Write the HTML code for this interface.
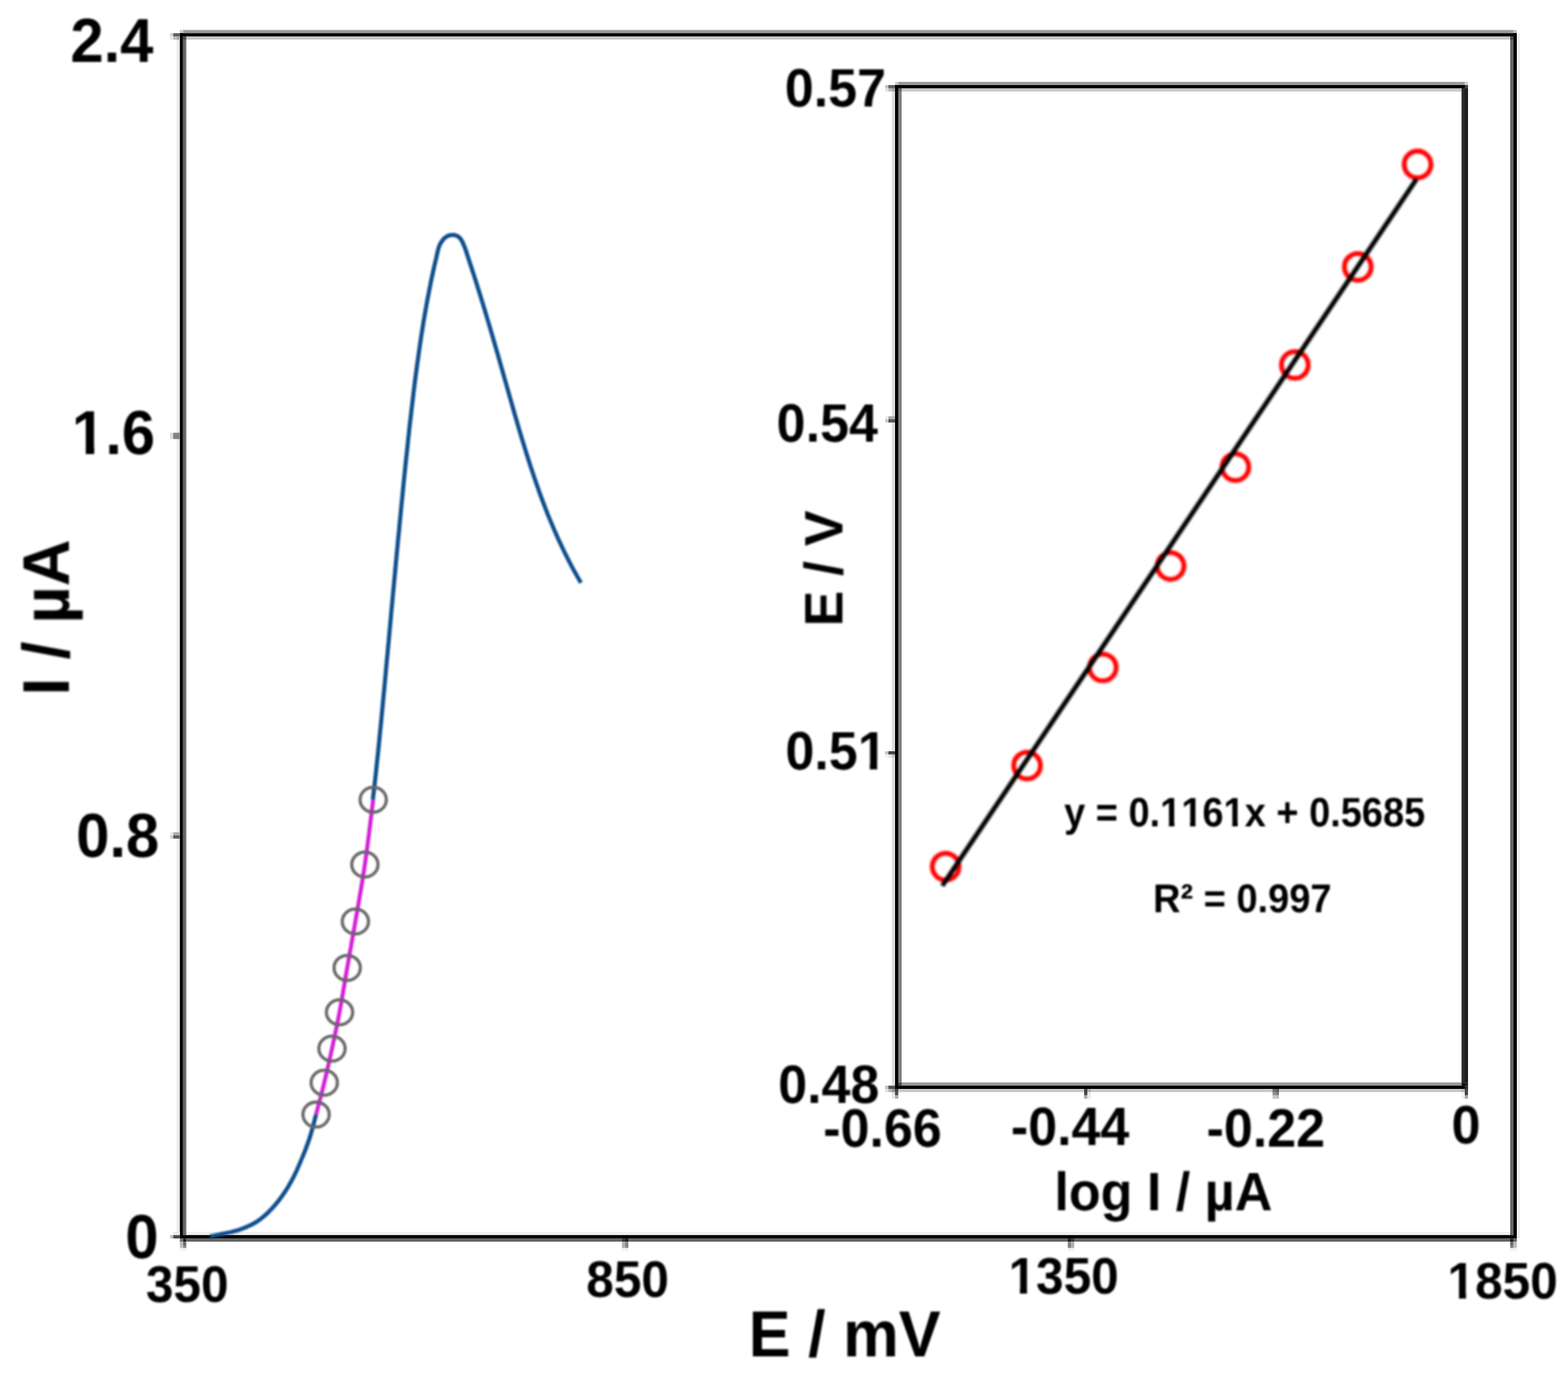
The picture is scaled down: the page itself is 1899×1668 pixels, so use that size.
<!DOCTYPE html>
<html lang="en"><head><meta charset="utf-8"><title>Tafel plot</title>
<style>
html,body{margin:0;padding:0;background:#fff;}
body{width:1899px;height:1668px;overflow:hidden;}
svg{display:block;}
text{font-family:"Liberation Sans", Arial, Helvetica, sans-serif;font-weight:bold;fill:#000;font-kerning:none;text-rendering:geometricPrecision;stroke:#000;stroke-width:0;stroke-linejoin:round;}
</style></head>
<body>
<svg xmlns="http://www.w3.org/2000/svg" width="1899" height="1668" viewBox="0 0 1899 1668">
<defs>
<filter id="b" x="-5%" y="-5%" width="110%" height="110%" color-interpolation-filters="sRGB"><feGaussianBlur stdDeviation="1.3"/></filter>
<filter id="b3" x="-2%" y="-2%" width="104%" height="104%" color-interpolation-filters="sRGB"><feGaussianBlur stdDeviation="0.45"/></filter>
<filter id="b4" x="-5%" y="-5%" width="110%" height="110%" color-interpolation-filters="sRGB"><feGaussianBlur stdDeviation="1.4"/></filter>
<filter id="b2" x="-5%" y="-5%" width="110%" height="110%" color-interpolation-filters="sRGB"><feGaussianBlur stdDeviation="1.1"/></filter>
</defs>
<rect x="0" y="0" width="1899" height="1668" fill="#fff"/>
<g filter="url(#b3)">
<rect x="221.70" y="36.30" width="1611.20" height="3.90" fill="#999"/>
<rect x="217.80" y="36.30" width="3.90" height="3.90" fill="#c8c8c8"/>
<rect x="1832.90" y="36.30" width="4.10" height="3.90" fill="#c0c0c0"/>
<rect x="225.60" y="44.10" width="1603.40" height="3.90" fill="#c8c8c8"/>
<rect x="217.80" y="40.20" width="1619.20" height="3.90" fill="#000"/>
<rect x="225.60" y="1492.20" width="1603.40" height="3.90" fill="#eee"/>
<rect x="225.60" y="1500.20" width="1603.40" height="3.90" fill="#646464"/>
<rect x="217.80" y="1496.10" width="1619.20" height="4.10" fill="#000"/>
<rect x="213.90" y="48.00" width="3.90" height="1444.20" fill="#ebebeb"/>
<rect x="221.70" y="48.00" width="3.90" height="1448.10" fill="#666"/>
<rect x="221.70" y="44.10" width="3.90" height="3.90" fill="#484848"/>
<rect x="217.80" y="40.20" width="3.90" height="1460.00" fill="#000"/>
<rect x="1838.00" y="40.20" width="3.00" height="1460.00" fill="#efefef"/>
<rect x="1829.00" y="48.00" width="3.90" height="1448.10" fill="#666"/>
<rect x="1829.00" y="44.10" width="3.90" height="3.90" fill="#484848"/>
<rect x="1832.90" y="40.20" width="4.10" height="1460.00" fill="#000"/>
<rect x="205.90" y="40.20" width="3.90" height="3.90" fill="#d0d0d0"/>
<rect x="209.80" y="40.20" width="8.00" height="3.90" fill="#606060"/>
<rect x="205.90" y="44.10" width="3.90" height="3.90" fill="#e8e8e8"/>
<rect x="209.80" y="44.10" width="4.10" height="3.90" fill="#b8b8b8"/>
<rect x="213.90" y="44.10" width="3.90" height="3.90" fill="#a8a8a8"/>
<rect x="205.90" y="1496.10" width="3.90" height="4.10" fill="#c0c0c0"/>
<rect x="209.80" y="1496.10" width="8.00" height="4.10" fill="#484848"/>
<rect x="209.80" y="1492.20" width="8.00" height="3.90" fill="#e8e8e8"/>
<rect x="217.80" y="1500.20" width="3.90" height="3.90" fill="#707070"/>
<rect x="221.70" y="1500.20" width="3.90" height="3.90" fill="#181818"/>
<rect x="217.80" y="1504.10" width="3.90" height="3.90" fill="#b8b8b8"/>
<rect x="221.70" y="1504.10" width="3.90" height="3.90" fill="#6a6a6a"/>
<rect x="217.80" y="1508.00" width="3.90" height="3.80" fill="#c0c0c0"/>
<rect x="221.70" y="1508.00" width="3.90" height="3.80" fill="#808080"/>
<rect x="217.80" y="1511.80" width="7.80" height="4.00" fill="#f4f4f4"/>
<rect x="1829.00" y="1500.20" width="3.90" height="3.90" fill="#1c1c1c"/>
<rect x="1832.90" y="1500.20" width="4.10" height="3.90" fill="#606060"/>
<rect x="1829.00" y="1504.10" width="3.90" height="3.90" fill="#6a6a6a"/>
<rect x="1832.90" y="1504.10" width="4.10" height="3.90" fill="#b8b8b8"/>
<rect x="1829.00" y="1508.00" width="3.90" height="3.80" fill="#808080"/>
<rect x="1832.90" y="1508.00" width="4.10" height="3.80" fill="#c0c0c0"/>
<rect x="1829.00" y="1511.80" width="8.00" height="4.00" fill="#f4f4f4"/>
<rect x="205.90" y="524.25" width="3.90" height="7.55" fill="#dcdcdc"/>
<rect x="209.80" y="524.25" width="8.00" height="7.55" fill="#808080"/>
<rect x="205.90" y="1008.25" width="3.90" height="3.75" fill="#e8e8e8"/>
<rect x="209.80" y="1008.25" width="8.00" height="3.75" fill="#aaaaaa"/>
<rect x="205.90" y="1012.00" width="3.90" height="3.80" fill="#d0d0d0"/>
<rect x="209.80" y="1012.00" width="8.00" height="3.80" fill="#5c5c5c"/>
<rect x="753.20" y="1500.20" width="3.90" height="3.90" fill="#383838"/>
<rect x="757.10" y="1500.20" width="3.90" height="3.90" fill="#202020"/>
<rect x="753.20" y="1504.10" width="3.90" height="7.70" fill="#b0b0b0"/>
<rect x="757.10" y="1504.10" width="3.90" height="7.70" fill="#848484"/>
<rect x="753.20" y="1511.80" width="7.80" height="4.00" fill="#f4f4f4"/>
<rect x="1293.20" y="1500.20" width="3.90" height="3.90" fill="#202020"/>
<rect x="1297.10" y="1500.20" width="3.90" height="3.90" fill="#383838"/>
<rect x="1293.20" y="1504.10" width="3.90" height="7.70" fill="#808080"/>
<rect x="1297.10" y="1504.10" width="3.90" height="7.70" fill="#b0b0b0"/>
<rect x="1293.20" y="1511.80" width="7.80" height="4.00" fill="#f4f4f4"/>
<rect x="1087.90" y="99.20" width="686.10" height="3.85" fill="#999"/>
<rect x="1084.00" y="99.20" width="3.90" height="3.85" fill="#c8c8c8"/>
<rect x="1774.00" y="99.20" width="3.90" height="3.85" fill="#d0d0d0"/>
<rect x="1092.00" y="106.90" width="678.10" height="3.90" fill="#c8c8c8"/>
<rect x="1084.00" y="103.05" width="690.00" height="3.85" fill="#000"/>
<rect x="1774.00" y="103.05" width="3.90" height="3.85" fill="#404040"/>
<rect x="1092.00" y="1311.20" width="678.10" height="3.90" fill="#999"/>
<rect x="1087.90" y="1319.00" width="682.20" height="3.90" fill="#c8c8c8"/>
<rect x="1084.00" y="1315.10" width="690.00" height="3.90" fill="#000"/>
<rect x="1080.10" y="110.80" width="3.90" height="1204.30" fill="#dddddd"/>
<rect x="1087.90" y="110.80" width="4.10" height="1200.40" fill="#808080"/>
<rect x="1087.90" y="106.90" width="4.10" height="3.90" fill="#606060"/>
<rect x="1087.90" y="1311.20" width="4.10" height="3.90" fill="#484848"/>
<rect x="1084.00" y="103.05" width="3.90" height="1215.95" fill="#000"/>
<rect x="1770.10" y="106.90" width="3.90" height="1204.30" fill="#2a2a2a"/>
<rect x="1774.00" y="106.90" width="3.90" height="1204.30" fill="#1c1c1c"/>
<rect x="1770.10" y="1311.20" width="3.90" height="3.90" fill="#111"/>
<rect x="1774.00" y="1311.20" width="3.90" height="3.90" fill="#1c1c1c"/>
<rect x="1774.00" y="1315.10" width="3.90" height="3.90" fill="#303030"/>
<rect x="1072.10" y="103.05" width="3.90" height="3.85" fill="#c0c0c0"/>
<rect x="1076.00" y="103.05" width="8.00" height="3.85" fill="#606060"/>
<rect x="1072.10" y="106.90" width="3.90" height="3.90" fill="#e0e0e0"/>
<rect x="1076.00" y="106.90" width="4.10" height="3.90" fill="#b8b8b8"/>
<rect x="1080.10" y="106.90" width="3.90" height="3.90" fill="#a0a0a0"/>
<rect x="1072.10" y="1315.10" width="3.90" height="3.90" fill="#c0c0c0"/>
<rect x="1076.00" y="1315.10" width="8.00" height="3.90" fill="#505050"/>
<rect x="1072.10" y="1319.00" width="3.90" height="3.90" fill="#e0e0e0"/>
<rect x="1076.00" y="1319.00" width="4.10" height="3.90" fill="#b8b8b8"/>
<rect x="1080.10" y="1319.00" width="3.90" height="3.90" fill="#909090"/>
<rect x="1084.00" y="1319.00" width="3.90" height="3.90" fill="#404040"/>
<rect x="1080.10" y="1322.90" width="3.90" height="3.90" fill="#e0e0e0"/>
<rect x="1084.00" y="1322.90" width="3.90" height="3.90" fill="#484848"/>
<rect x="1080.10" y="1326.80" width="3.90" height="4.10" fill="#e8e8e8"/>
<rect x="1084.00" y="1326.80" width="3.90" height="4.10" fill="#a8a8a8"/>
<rect x="1770.10" y="1319.00" width="3.90" height="3.90" fill="#b0b0b0"/>
<rect x="1774.00" y="1319.00" width="3.90" height="3.90" fill="#404040"/>
<rect x="1770.10" y="1322.90" width="3.90" height="3.90" fill="#f0f0f0"/>
<rect x="1774.00" y="1322.90" width="3.90" height="3.90" fill="#404040"/>
<rect x="1770.10" y="1326.80" width="3.90" height="4.10" fill="#f0f0f0"/>
<rect x="1774.00" y="1326.80" width="3.90" height="4.10" fill="#a8a8a8"/>
<rect x="1072.10" y="504.25" width="3.90" height="3.65" fill="#e8e8e8"/>
<rect x="1076.00" y="504.25" width="8.00" height="3.65" fill="#a8a8a8"/>
<rect x="1072.10" y="507.90" width="3.90" height="3.90" fill="#c8c8c8"/>
<rect x="1076.00" y="507.90" width="8.00" height="3.90" fill="#555555"/>
<rect x="1072.10" y="910.00" width="3.90" height="3.90" fill="#c0c0c0"/>
<rect x="1076.00" y="910.00" width="8.00" height="3.90" fill="#444444"/>
<rect x="1072.10" y="913.90" width="3.90" height="3.90" fill="#f4f4f4"/>
<rect x="1076.00" y="913.90" width="4.10" height="3.90" fill="#e8e8e8"/>
<rect x="1080.10" y="913.90" width="3.90" height="3.90" fill="#c8c8c8"/>
<rect x="1313.00" y="1319.00" width="3.90" height="7.80" fill="#444444"/>
<rect x="1313.00" y="1326.80" width="3.90" height="4.10" fill="#aaaaaa"/>
<rect x="1316.90" y="1319.00" width="4.10" height="3.90" fill="#aaaaaa"/>
<rect x="1316.90" y="1322.90" width="4.10" height="8.00" fill="#e8e8e8"/>
<rect x="1541.20" y="1319.00" width="3.90" height="3.90" fill="#6e6e6e"/>
<rect x="1545.10" y="1319.00" width="3.90" height="3.90" fill="#5c5c5c"/>
<rect x="1541.20" y="1322.90" width="3.90" height="3.90" fill="#909090"/>
<rect x="1545.10" y="1322.90" width="3.90" height="3.90" fill="#7c7c7c"/>
<rect x="1541.20" y="1326.80" width="3.90" height="4.10" fill="#c8c8c8"/>
<rect x="1545.10" y="1326.80" width="3.90" height="4.10" fill="#bdbdbd"/>
</g>
<g filter="url(#b2)" fill="none" stroke-linejoin="round" stroke-linecap="butt">
<path d="M254.3,1498.0 C256.0,1497.6 261.4,1496.3 264.7,1495.6 C267.9,1494.9 270.8,1494.4 273.7,1493.7 C276.6,1493.1 279.3,1492.6 282.1,1491.8 C284.9,1491.1 287.8,1490.3 290.6,1489.3 C293.4,1488.4 296.2,1487.3 299.0,1486.1 C301.8,1484.8 304.6,1483.6 307.4,1482.0 C310.2,1480.4 313.0,1478.5 315.8,1476.4 C318.6,1474.2 321.5,1471.8 324.3,1469.1 C327.1,1466.4 329.9,1463.5 332.7,1460.2 C335.5,1457.0 338.3,1453.4 341.1,1449.5 C343.9,1445.6 346.8,1441.3 349.5,1436.7 C352.3,1432.0 355.1,1426.8 357.6,1421.7 C360.0,1416.6 362.4,1410.9 364.5,1405.9 C366.6,1400.9 368.5,1396.3 370.2,1391.8 C371.9,1387.4 373.3,1383.5 374.8,1379.1 C376.2,1374.7 377.5,1370.1 378.8,1365.3 C380.1,1360.4 382.1,1352.6 382.8,1350.1" stroke="#0d4d8c" stroke-width="5.0"/>
<path d="M451.5,968.8 C451.8,966.5 452.6,959.7 453.1,955.1 C453.6,950.5 454.2,946.0 454.7,941.4 C455.2,936.9 455.7,932.3 456.1,927.7 C456.6,923.2 457.1,918.6 457.6,914.0 C458.1,909.5 458.5,904.9 459.0,900.4 C459.4,895.8 459.9,891.2 460.3,886.7 C460.8,882.1 461.2,877.5 461.7,873.0 C462.1,868.4 462.6,863.9 463.0,859.3 C463.4,854.7 463.9,850.2 464.3,845.6 C464.7,841.0 465.2,836.5 465.6,831.9 C466.0,827.4 466.4,822.8 466.9,818.2 C467.3,813.7 467.7,809.1 468.1,804.5 C468.5,800.0 469.0,795.4 469.4,790.9 C469.8,786.3 470.2,781.7 470.7,777.2 C471.1,772.6 471.5,768.0 471.9,763.5 C472.3,758.9 472.8,754.4 473.2,749.8 C473.6,745.2 474.0,740.7 474.4,736.1 C474.9,731.5 475.3,727.0 475.7,722.4 C476.1,717.9 476.6,713.3 477.0,708.7 C477.4,704.2 477.8,699.6 478.3,695.0 C478.7,690.5 479.1,685.9 479.5,681.4 C480.0,676.8 480.4,672.2 480.8,667.7 C481.3,663.1 481.7,658.5 482.1,654.0 C482.6,649.4 483.0,644.9 483.5,640.3 C483.9,635.7 484.3,631.2 484.8,626.6 C485.2,622.0 485.7,617.5 486.1,612.9 C486.6,608.4 487.0,603.8 487.5,599.2 C487.9,594.7 488.4,590.1 488.8,585.5 C489.3,581.0 489.8,576.4 490.2,571.9 C490.7,567.3 491.2,562.7 491.6,558.2 C492.1,553.6 492.6,549.0 493.1,544.5 C493.6,539.9 494.0,535.4 494.5,530.8 C495.0,526.2 495.5,521.7 496.0,517.1 C496.5,512.5 497.1,508.0 497.6,503.4 C498.1,498.9 498.6,494.3 499.2,489.7 C499.7,485.2 500.3,480.6 500.8,476.0 C501.4,471.5 501.9,466.9 502.5,462.4 C503.1,457.8 503.7,453.2 504.3,448.7 C504.9,444.1 505.5,439.5 506.2,435.0 C506.8,430.4 507.4,425.9 508.1,421.3 C508.8,416.7 509.4,412.2 510.1,407.6 C510.8,403.0 511.6,398.5 512.3,393.9 C513.0,389.4 513.8,384.8 514.6,380.2 C515.4,375.7 516.2,371.1 517.0,366.5 C517.8,362.0 518.7,357.4 519.6,352.9 C520.5,348.3 521.4,343.7 522.3,339.2 C523.3,334.6 524.3,330.0 525.3,325.5 C526.3,320.9 527.4,316.4 528.5,311.8 C529.5,307.2 530.5,301.7 531.9,298.1 C533.2,294.5 535.1,292.2 536.6,290.3 C538.1,288.4 539.4,287.5 540.8,286.6 C542.2,285.7 543.5,285.3 544.8,285.0 C546.1,284.7 547.2,284.6 548.4,284.6 C549.6,284.6 550.8,284.7 552.0,285.1 C553.2,285.5 554.5,286.0 555.8,287.2 C557.1,288.4 558.3,289.8 559.6,292.2 C560.9,294.6 562.3,298.4 563.6,301.7 C564.8,305.0 565.9,308.6 567.0,312.1 C568.1,315.5 569.3,319.0 570.4,322.4 C571.5,325.9 572.6,329.3 573.8,332.8 C574.9,336.3 576.0,339.7 577.1,343.2 C578.1,346.6 579.2,350.1 580.3,353.5 C581.4,357.0 582.5,360.4 583.5,363.9 C584.6,367.4 585.6,370.8 586.7,374.3 C587.7,377.7 588.8,381.2 589.8,384.6 C590.8,388.1 591.8,391.5 592.9,395.0 C593.9,398.5 594.9,401.9 595.9,405.4 C596.9,408.8 597.9,412.3 598.9,415.7 C599.9,419.2 600.9,422.6 601.9,426.1 C602.9,429.6 603.9,433.0 604.9,436.5 C605.8,439.9 606.8,443.4 607.8,446.8 C608.8,450.3 609.8,453.7 610.7,457.2 C611.7,460.7 612.7,464.1 613.7,467.6 C614.6,471.0 615.6,474.5 616.6,477.9 C617.6,481.4 618.6,484.8 619.6,488.3 C620.5,491.8 621.5,495.2 622.5,498.7 C623.5,502.1 624.5,505.6 625.5,509.0 C626.5,512.5 627.5,515.9 628.5,519.4 C629.6,522.9 630.6,526.3 631.6,529.8 C632.7,533.2 633.7,536.7 634.8,540.1 C635.8,543.6 636.9,547.0 638.0,550.5 C639.1,554.0 640.2,557.4 641.3,560.9 C642.4,564.3 643.5,567.8 644.7,571.2 C645.8,574.7 647.0,578.1 648.2,581.6 C649.3,585.1 650.5,588.5 651.8,592.0 C653.0,595.4 654.2,598.9 655.5,602.3 C656.8,605.8 658.1,609.2 659.4,612.7 C660.7,616.2 662.1,619.6 663.4,623.1 C664.8,626.5 666.2,630.0 667.7,633.4 C669.1,636.9 670.6,640.3 672.1,643.8 C673.6,647.3 675.1,650.7 676.7,654.2 C678.3,657.6 679.9,661.1 681.6,664.5 C683.2,668.0 684.9,671.4 686.7,674.9 C688.4,678.4 690.2,681.8 692.0,685.3 C693.8,688.7 695.7,692.2 697.7,695.6 C699.6,699.1 702.6,704.3 703.6,706.0" stroke="#0d4d8c" stroke-width="5.0"/>
<path d="M382.8,1350.1 C384.4,1343.7 389.5,1324.8 392.7,1311.5 C395.9,1298.2 399.0,1284.4 402.1,1270.2 C405.2,1256.0 408.1,1242.6 411.2,1226.3 C414.3,1210.0 417.3,1190.7 420.5,1172.4 C423.7,1154.1 426.8,1137.2 430.4,1116.3 C434.0,1095.4 438.3,1071.9 441.9,1047.3 C445.5,1022.7 450.3,981.9 452.0,968.8" stroke="#d41cd8" stroke-width="4.8"/>
<ellipse cx="382.8" cy="1350.1" rx="15.9" ry="15.1" stroke="#666666" stroke-width="3.8"/>
<ellipse cx="392.7" cy="1311.5" rx="15.9" ry="15.1" stroke="#666666" stroke-width="3.8"/>
<ellipse cx="402.1" cy="1270.2" rx="15.9" ry="15.1" stroke="#666666" stroke-width="3.8"/>
<ellipse cx="411.2" cy="1226.3" rx="15.9" ry="15.1" stroke="#666666" stroke-width="3.8"/>
<ellipse cx="420.5" cy="1172.4" rx="15.9" ry="15.1" stroke="#666666" stroke-width="3.8"/>
<ellipse cx="430.4" cy="1116.3" rx="15.9" ry="15.1" stroke="#666666" stroke-width="3.8"/>
<ellipse cx="441.9" cy="1047.3" rx="15.9" ry="15.1" stroke="#666666" stroke-width="3.8"/>
<ellipse cx="452" cy="968.8" rx="15.9" ry="15.1" stroke="#666666" stroke-width="3.8"/>
</g>
<g filter="url(#b4)" fill="none" stroke-linecap="butt">
<circle cx="1145.3" cy="1049.8" r="16.2" stroke="#ff0000" stroke-width="5.8"/>
<circle cx="1243.9" cy="927.3" r="16.2" stroke="#ff0000" stroke-width="5.8"/>
<circle cx="1335.6" cy="808.5" r="16.2" stroke="#ff0000" stroke-width="5.8"/>
<circle cx="1417.7" cy="685.6" r="16.2" stroke="#ff0000" stroke-width="5.8"/>
<circle cx="1496.2" cy="565.8" r="16.2" stroke="#ff0000" stroke-width="5.8"/>
<circle cx="1568.2" cy="442" r="16.2" stroke="#ff0000" stroke-width="5.8"/>
<circle cx="1644.4" cy="323.3" r="16.2" stroke="#ff0000" stroke-width="5.8"/>
<circle cx="1716.8" cy="199.2" r="16.2" stroke="#ff0000" stroke-width="5.8"/>
<line x1="1141.2" y1="1073" x2="1715.5" y2="217" stroke="#000" stroke-width="5.8"/>
</g>
<g filter="url(#b)">
<g transform="translate(85.15,75.25) scale(1.0,1.04)"><text font-size="72.5">2.4</text></g>
<g transform="translate(87.10,549.95) scale(1.0,1.04)"><text font-size="72.5">1.6</text><rect x="3.62" y="-9.28" width="13.15" height="10.88" fill="#fff"/><rect x="27.02" y="-9.28" width="12.49" height="10.88" fill="#fff"/></g>
<g transform="translate(92.15,1038.40) scale(1.0,1.04)"><text font-size="72.5">0.8</text></g>
<g transform="translate(151.85,1524.20) scale(1.0,1.04)"><text font-size="72.5">0</text></g>
<g transform="translate(176.65,1576.85) scale(1.0,1.04)"><text font-size="60">350</text></g>
<g transform="translate(710.05,1570.75) scale(1.0,1.04)"><text font-size="60">850</text></g>
<g transform="translate(1221.40,1567.10) scale(1.0,1.04)"><text font-size="60">1350</text><rect x="3.00" y="-7.68" width="10.85" height="9.00" fill="#fff"/><rect x="22.39" y="-7.68" width="10.31" height="9.00" fill="#fff"/></g>
<g transform="translate(1753.10,1572.85) scale(1.0,1.04)"><text font-size="60">1850</text><rect x="3.00" y="-7.68" width="10.85" height="9.00" fill="#fff"/><rect x="22.39" y="-7.68" width="10.31" height="9.00" fill="#fff"/></g>
<g transform="translate(906.85,1642.50) scale(1.0,1.04)"><text font-size="76" stroke-width="0.8">E / mV</text></g>
<g transform="translate(83.20,842.60) scale(1.04,1.02) rotate(-90)"><text font-size="77" stroke-width="0.8">I / µA</text></g>
<g transform="translate(950.40,129.20) scale(1.0,1.04)"><text font-size="63">0.57</text></g>
<g transform="translate(940.60,534.80) scale(1.0,1.04)"><text font-size="63">0.54</text></g>
<g transform="translate(951.30,932.40) scale(1.0,1.04)"><text font-size="63">0.51</text><rect x="90.72" y="-8.06" width="11.40" height="9.45" fill="#fff"/><rect x="111.07" y="-8.06" width="10.84" height="9.45" fill="#fff"/></g>
<g transform="translate(942.40,1335.95) scale(1.0,1.04)"><text font-size="63">0.48</text></g>
<g transform="translate(997.05,1388.85) scale(1.0,1.04)"><text font-size="63">-0.66</text></g>
<g transform="translate(1224.15,1386.75) scale(1.0,1.04)"><text font-size="63">-0.44</text></g>
<g transform="translate(1461.20,1389.10) scale(1.0,1.04)"><text font-size="63">-0.22</text></g>
<g transform="translate(1758.10,1384.95) scale(1.0,1.04)"><text font-size="63">0</text></g>
<g transform="translate(1277.10,1466.00) scale(1.0,1.04)"><text font-size="63">log I / µA</text></g>
<g transform="translate(1020.45,758.85) scale(1.04,1.03) rotate(-90)"><text font-size="63">E / V</text></g>
<g transform="translate(1288.70,1000.70) scale(1.0,1.085)"><text font-size="46" fill="#1c1c1c">y = 0.1161x + 0.5685</text><rect x="118.68" y="-5.89" width="8.29" height="6.90" fill="#fff"/><rect x="133.58" y="-5.89" width="7.87" height="6.90" fill="#fff"/><rect x="144.26" y="-5.89" width="8.29" height="6.90" fill="#fff"/><rect x="159.15" y="-5.89" width="7.87" height="6.90" fill="#fff"/><rect x="195.41" y="-5.89" width="8.29" height="6.90" fill="#fff"/><rect x="210.31" y="-5.89" width="7.87" height="6.90" fill="#fff"/></g>
<g transform="translate(1396.50,1104.85) scale(1.0,1.06)"><text font-size="46" fill="#1c1c1c">R² = 0.997</text></g>
</g>
</svg>
</body></html>
